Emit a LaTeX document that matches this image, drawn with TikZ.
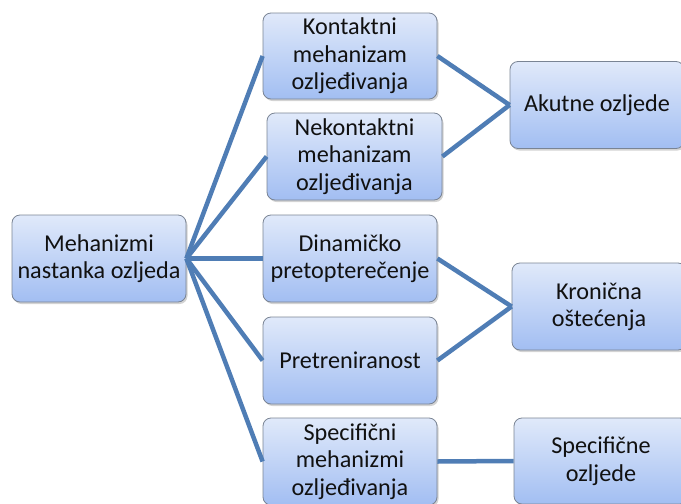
\documentclass[tikz,border=0pt]{standalone}
\usepackage{fontspec}
\setmainfont{Carlito}
\usetikzlibrary{shadows}
\definecolor{linkblue}{HTML}{4F7DB5}
\definecolor{boxtop}{HTML}{E0E9FA}
\definecolor{boxbot}{HTML}{A2BEF2}
\definecolor{boxline}{HTML}{7A8494}
\definecolor{txt}{HTML}{111111}
\begin{document}
\begin{tikzpicture}[x=1pt,y=-1pt,
  box/.style={draw=boxline, line width=0.8pt, rounded corners=8pt,
    top color=boxtop, bottom color=boxbot, align=center, text=txt,
    font=\fontsize{24.2}{27.5}\selectfont, inner sep=0pt,
    drop shadow={shadow xshift=1.5pt, shadow yshift=-2pt, opacity=0.35, fill=gray}},
  link/.style={draw=linkblue, line width=4.5pt}]
\useasboundingbox (0,0) rectangle (681,504);
\clip (0,0) rectangle (681,504);
\node[box, minimum width=174pt, minimum height=87pt] (root) at (99,258.5) {Mehanizmi\\nastanka ozljeda};
\node[box, minimum width=174pt, minimum height=86pt] (k) at (350,56) {Kontaktni\\mehanizam\\ozljeđivanja};
\node[box, minimum width=175pt, minimum height=87pt] (nk) at (354.5,156.5) {Nekontaktni\\mehanizam\\ozljeđivanja};
\node[box, minimum width=174pt, minimum height=87pt] (d) at (350,258.5) {Dinamičko\\pretopterečenje};
\node[box, minimum width=174pt, minimum height=87pt] (p) at (350,360.5) {Pretreniranost};
\node[box, minimum width=174pt, minimum height=87pt] (s) at (350,461.5) {Specifični\\mehanizmi\\ozljeđivanja};
\node[box, minimum width=174pt, minimum height=87pt] (ak) at (597,105) {Akutne ozljede};
\node[box, minimum width=174pt, minimum height=87pt] (kr) at (599,306.5) {Kronična\\oštećenja};
\node[box, minimum width=174pt, minimum height=86pt] (sp) at (601,461) {Specifične\\ozljede};
\draw[link] (root.east) -- (k.west);
\draw[link] (root.east) -- (nk.west);
\draw[link] (root.east) -- (d.west);
\draw[link] (root.east) -- (p.west);
\draw[link] (root.east) -- (s.west);
\draw[link] (k.east) -- (ak.west);
\draw[link] (nk.east) -- (ak.west);
\draw[link] (d.east) -- (kr.west);
\draw[link] (p.east) -- (kr.west);
\draw[link] (s.east) -- (sp.west);
\end{tikzpicture}
\end{document}
